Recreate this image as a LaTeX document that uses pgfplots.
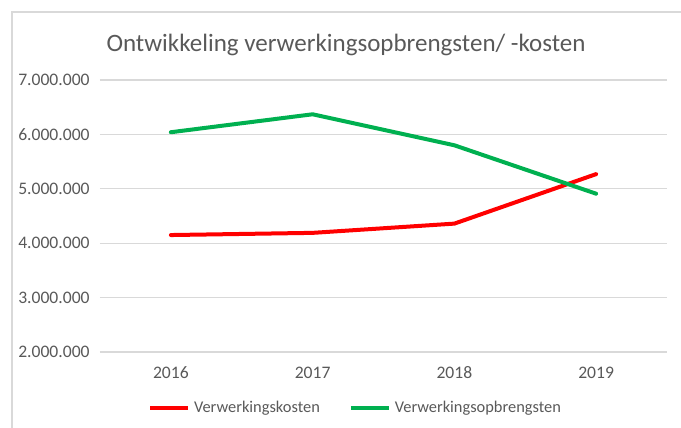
\documentclass[border=0pt]{standalone}
\usepackage{fontspec}
\setmainfont{Carlito}
\usepackage{pgfplots}
\pgfplotsset{compat=1.18}
\definecolor{txt}{RGB}{89,89,89}
\definecolor{gridgray}{RGB}{217,217,217}
\definecolor{xred}{RGB}{255,0,0}
\definecolor{xgreen}{RGB}{0,176,80}
\begin{document}
\begin{tikzpicture}
\path[use as bounding box] (0,0) rectangle (340.5pt,214pt);
\draw[gridgray, line width=0.6pt] (6pt,0) -- (6pt,208pt) -- (341pt,208pt);
\begin{axis}[
  at={(50pt,38pt)}, anchor=south west,
  scale only axis, width=283.5pt, height=136pt,
  xmin=0, xmax=4, ymin=2000000, ymax=7000000,
  xtick={0.5,1.5,2.5,3.5},
  xticklabels={2016,2017,2018,2019},
  ytick={2000000,3000000,4000000,5000000,6000000,7000000},
  scaled y ticks=false,
  /pgf/number format/fixed,
  /pgf/number format/precision=0,
  /pgf/number format/1000 sep={.},
  /pgf/number format/assume math mode=true,
  xmajorgrids=false, ymajorgrids=true, grid style={gridgray, line width=0.6pt},
  axis line style={draw=none}, major tick style={draw=none},
  tick label style={font=\fontsize{8.8}{10}\selectfont, text=txt},
  xticklabel style={anchor=center, yshift=-10.5pt},
  yticklabel style={anchor=east, inner sep=0pt, xshift=-5pt},
  legend columns=2,
  legend style={draw=none, fill=none, at={(rel axis cs:0.4524,-0.206)}, anchor=center,
    font=\fontsize{8.2}{10}\selectfont, text=txt,
    /tikz/every even column/.append style={column sep=12.5pt}},
  legend cell align=left,
  legend image code/.code={\draw[#1, line cap=butt] (0pt,0pt) -- (19pt,0pt);},
  every axis plot/.append style={line width=2pt, line cap=round, line join=round},
]
\addplot[xred] coordinates {(0.5,4150000) (1.5,4190000) (2.5,4360000) (3.5,5270000)};
\addlegendentry{Verwerkingskosten}
\addplot[xgreen] coordinates {(0.5,6040000) (1.5,6370000) (2.5,5800000) (3.5,4910000)};
\addlegendentry{Verwerkingsopbrengsten}
\end{axis}
\node[text=txt, font=\fontsize{12.5}{15}\selectfont] at (173pt,191.5pt) {Ontwikkeling verwerkingsopbrengsten/ -kosten};
\end{tikzpicture}
\end{document}
